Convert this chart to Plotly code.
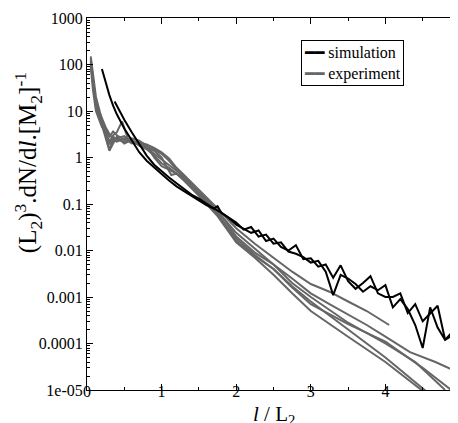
import plotly.graph_objects as go

# simulation curves (black)
sim1_x = [0.2, 0.25, 0.3, 0.35, 0.4, 0.5, 0.6, 0.7, 0.8, 0.9, 1.0, 1.1, 1.2, 1.3, 1.4, 1.5, 1.6, 1.7, 1.75, 1.8, 1.9,
          2.0, 2.1, 2.2, 2.3, 2.4, 2.5, 2.6, 2.7, 2.8, 2.9, 3.0, 3.1, 3.2, 3.3, 3.4, 3.5, 3.6, 3.7, 3.8, 3.9,
          4.0, 4.1, 4.2, 4.3, 4.4, 4.5, 4.6, 4.7, 4.8, 4.9, 5.0]
sim1_y = [80, 40, 22, 13, 8.5, 4.2, 2.3, 1.3, 0.85, 0.6, 0.44, 0.32, 0.24, 0.19, 0.15, 0.12, 0.095, 0.08, 0.09, 0.065, 0.05,
          0.036, 0.030, 0.024, 0.027, 0.016, 0.018, 0.012, 0.010, 0.013, 0.0065, 0.0068, 0.0045, 0.0050, 0.0026, 0.0048, 0.0022,
          0.0015, 0.0020, 0.0028, 0.0012, 0.0010, 0.0010, 0.0012, 0.00045, 0.00070, 0.00030, 0.00045, 0.00065, 0.00012,
          0.00018, 0.00035]

sim2_x = [0.37, 0.45, 0.5, 0.6, 0.7, 0.8, 0.9, 1.0, 1.1, 1.2, 1.3, 1.4, 1.5, 1.6, 1.7, 1.8, 1.9,
          2.0, 2.1, 2.2, 2.3, 2.4, 2.5, 2.6, 2.7, 2.8, 2.9, 3.0, 3.1, 3.2, 3.3, 3.4, 3.5, 3.6, 3.7, 3.8, 3.9,
          4.0, 4.1, 4.2, 4.3, 4.4, 4.5, 4.6, 4.7, 4.8, 4.9, 5.0]
sim2_y = [16, 9, 6.5, 3.5, 1.9, 1.1, 0.7, 0.5, 0.37, 0.28, 0.21, 0.16, 0.13, 0.10, 0.08, 0.065, 0.05,
          0.04, 0.028, 0.032, 0.02, 0.022, 0.014, 0.015, 0.0095, 0.0085, 0.0072, 0.0055, 0.0060, 0.0035, 0.0011, 0.0030,
          0.0025, 0.0019, 0.0013, 0.0017, 0.0014, 0.0018, 0.0006, 0.0009, 0.00055, 0.00025, 0.00008, 0.0006, 0.00022,
          0.00012, 0.00015, 0.00008]

# experiment curves (grey)
exp1_x = [0.05, 0.08, 0.12, 0.2, 0.25, 0.3, 0.35, 0.4, 0.5, 0.6, 0.7, 0.8, 0.9, 1.0, 1.1, 1.2, 1.3, 1.5, 1.75, 2.0, 2.25,
          2.5, 2.75, 3.0, 3.25, 3.5, 3.75, 4.05]
exp1_y = [150, 60, 20, 6.5, 4.0, 2.8, 3.6, 3.0, 2.4, 2.3, 2.1, 1.9, 1.6, 1.3, 0.95, 0.6, 0.42, 0.2, 0.08, 0.03, 0.014,
          0.007, 0.0035, 0.0019, 0.0013, 0.0008, 0.0005, 0.00025]

exp2_x = [0.05, 0.08, 0.12, 0.2, 0.25, 0.3, 0.35, 0.4, 0.5, 0.6, 0.7, 0.8, 0.9, 1.0, 1.13, 1.2, 1.3, 1.5, 1.75, 2.0, 2.25,
          2.5, 2.75, 3.0, 3.25, 3.5, 3.75, 4.0, 4.33, 4.67, 5.0]
exp2_y = [120, 50, 15, 5.5, 3.0, 1.5, 2.4, 2.2, 2.6, 2.0, 2.2, 1.6, 1.4, 1.0, 0.42, 0.45, 0.36, 0.17, 0.07, 0.024, 0.011,
          0.005, 0.0025, 0.0012, 0.0007, 0.00042, 0.00025, 0.00014, 0.000065, 0.00004, 0.000023]

exp3_x = [0.05, 0.08, 0.12, 0.2, 0.25, 0.3, 0.35, 0.4, 0.5, 0.6, 0.7, 0.8, 0.9, 1.0, 1.1, 1.2, 1.3, 1.5, 1.75, 2.0, 2.25,
          2.5, 2.75, 3.0, 3.5, 4.0, 4.52]
exp3_y = [100, 35, 12, 5.0, 2.5, 1.4, 2.0, 2.8, 2.0, 2.4, 1.8, 1.5, 1.1, 0.75, 0.6, 0.45, 0.32, 0.15, 0.055, 0.015, 0.007,
          0.003, 0.0012, 0.0005, 0.00014, 0.00004, 0.000009]

exp4_x = [0.05, 0.08, 0.12, 0.2, 0.25, 0.3, 0.35, 0.4, 0.47, 0.55, 0.6, 0.7, 0.8, 0.9, 1.0, 1.1, 1.2, 1.3, 1.5, 1.75, 2.0,
          2.25, 2.5, 2.75, 3.0, 3.5, 4.0, 4.56]
exp4_y = [90, 28, 10, 4.5, 3.5, 2.2, 3.0, 3.5, 6.0, 2.5, 2.1, 2.0, 1.7, 1.5, 1.2, 0.85, 0.55, 0.36, 0.16, 0.06, 0.018,
          0.008, 0.004, 0.0017, 0.0008, 0.0002, 0.00005, 0.000009]

exp5_x = [0.05, 0.08, 0.12, 0.2, 0.25, 0.3, 0.35, 0.4, 0.5, 0.6, 0.7, 0.8, 0.9, 1.0, 1.1, 1.2, 1.3, 1.5, 1.75, 2.0, 2.25,
          2.5, 2.75, 3.0, 3.5, 4.0, 4.4, 4.8]
exp5_y = [130, 45, 14, 7.0, 4.5, 3.2, 2.5, 2.6, 2.9, 2.1, 1.9, 1.6, 1.2, 0.9, 0.7, 0.52, 0.4, 0.18, 0.075, 0.02, 0.009,
          0.005, 0.002, 0.001, 0.00028, 0.0001, 0.00004, 0.00001]

exp6_x = [0.05, 0.08, 0.12, 0.2, 0.25, 0.3, 0.35, 0.4, 0.5, 0.6, 0.7, 0.8, 0.9, 1.0, 1.1, 1.2, 1.3, 1.5, 1.75, 2.0, 2.25,
          2.5, 2.75, 3.0, 3.5, 4.0, 4.5, 4.9]
exp6_y = [110, 40, 13, 6.0, 3.2, 1.9, 2.8, 2.4, 2.2, 2.6, 2.3, 1.8, 1.0, 0.65, 0.55, 0.45, 0.33, 0.16, 0.065, 0.016, 0.0075,
          0.004, 0.0016, 0.0007, 0.00026, 0.00011, 0.00003, 0.0000095]

sims = [(sim1_x, sim1_y), (sim2_x, sim2_y)]
exps = [(exp1_x, exp1_y), (exp2_x, exp2_y), (exp3_x, exp3_y),
        (exp4_x, exp4_y), (exp5_x, exp5_y), (exp6_x, exp6_y)]

ytick_vals = [1e-5, 1e-4, 1e-3, 1e-2, 1e-1, 1, 10, 100, 1000]
ytick_text = ["1e-05", "0.0001", "0.001", "0.01", "0.1", "1", "10", "100", "1000"]

grey = "#666666"
fig = go.Figure()

for x, y in exps:
    fig.add_trace(go.Scatter(x=x, y=y, mode="lines", line=dict(color=grey, width=2),
                             name="experiment", showlegend=False))
for x, y in sims:
    fig.add_trace(go.Scatter(x=x, y=y, mode="lines", line=dict(color="black", width=2),
                             name="simulation", showlegend=False))

font = dict(family="Liberation Serif, Times New Roman, serif", color="black")

# boxed legend drawn as a single annotation, tighter than plotly's own legend
legend_text = ("<span style='color:black;font-family:DejaVu Sans'>━━</span> simulation<br>"
               "<span style='color:%s;font-family:DejaVu Sans'>━━</span> experiment" % grey)

fig.update_layout(
    width=458, height=423,
    margin=dict(l=79, r=6, t=10, b=41),
    plot_bgcolor="white", paper_bgcolor="white",
    font=dict(size=16, **font),
    showlegend=False,
    annotations=[
        dict(text=legend_text, xref="paper", yref="paper", x=0.574, y=0.94,
             xanchor="left", yanchor="top", align="left", showarrow=False,
             bordercolor="black", borderwidth=1, borderpad=2, bgcolor="white",
             font=dict(size=16, **font)),
        dict(text="<i>l</i> / L<sub>2</sub>", xref="paper", yref="paper", x=0.5, y=-0.068,
             xanchor="center", yanchor="middle", showarrow=False, font=dict(size=21, **font)),
        dict(text="(L<sub>2</sub>)<sup>3</sup>.dN/d<i>l</i>.[M<sub>2</sub>]<sup>-1</sup>",
             xref="paper", yref="paper", x=-0.158, y=0.61, textangle=-90,
             xanchor="center", yanchor="middle", showarrow=False, font=dict(size=25, **font)),
    ],
)
fig.update_xaxes(
    range=[0, 5], showline=True, linecolor="black", linewidth=1, mirror="ticks",
    showgrid=False, zeroline=False, ticks="inside", ticklen=6, tickcolor="black",
    tickvals=[0, 1, 2, 3, 4, 5], tickfont=dict(size=16), automargin=False, ticklabelstandoff=-13,
    minor=dict(ticks="inside", ticklen=3, dtick=0.5, tick0=0, tickcolor="black", showgrid=False),
)
fig.update_yaxes(
    type="log", range=[-5, 3], showline=True, linecolor="black", linewidth=1, mirror="ticks",
    showgrid=False, zeroline=False, ticks="inside", ticklen=6, tickcolor="black",
    tickvals=ytick_vals, ticktext=ytick_text, tickfont=dict(size=16), automargin=False,
    minor=dict(ticks="inside", ticklen=3, dtick="D1", tickcolor="black", showgrid=False),
)

fig.write_html("out.html")
